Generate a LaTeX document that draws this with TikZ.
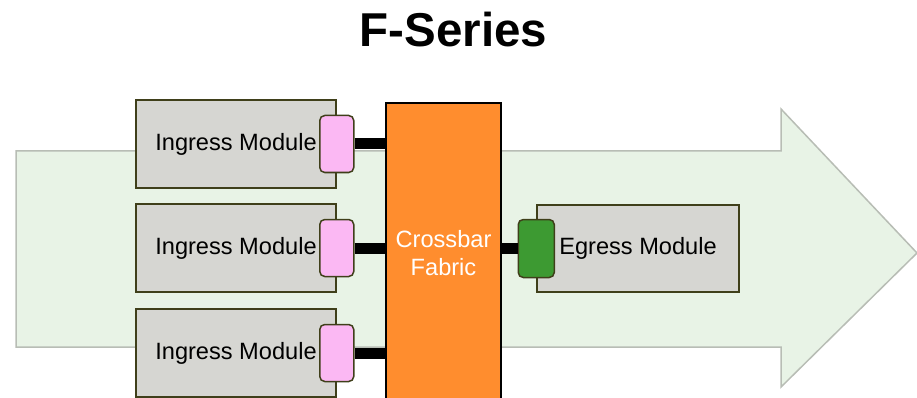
\documentclass[tikz,border=0pt]{standalone}
\usepackage{fontspec}
\setmainfont{Liberation Sans}
\definecolor{flowfill}{HTML}{E8F3E6}
\definecolor{flowline}{HTML}{B8BDB5}
\definecolor{modfill}{HTML}{D6D6D2}
\definecolor{modline}{HTML}{3F3F1A}
\definecolor{portpink}{HTML}{FBB8F3}
\definecolor{portgreen}{HTML}{3D9A32}
\definecolor{fabricorange}{HTML}{FF8D2E}
\begin{document}
\begin{tikzpicture}[x=1pt, y=-1pt,
    module/.style={draw=modline, fill=modfill, line width=1.5pt, minimum width=200pt,
      minimum height=88pt, inner sep=0pt, font=\fontsize{23.6}{28}\selectfont},
    port/.style={draw=modline, line width=1.5pt, rounded corners=5pt, minimum width=34pt,
      minimum height=57pt, inner sep=0pt},
    wire/.style={line width=11pt, black}]
        \useasboundingbox (0,0) rectangle (917,398);

        % Flow arrow in the background
        \draw[fill=flowfill, draw=flowline, line width=1.5pt]
            (16,151) -- (781,151) -- (781,109) -- (917,253) -- (781,387) -- (781,347) -- (16,347) -- cycle;

        \node[font=\fontsize{47.5}{50}\selectfont\bfseries] (title) at (453.5,29.5) {F-Series};

        % Crossbar
        \node[draw=black, fill=fabricorange, line width=2pt, minimum width=115pt, minimum height=300pt,
            text=white, align=center, font=\fontsize{23.6}{28}\selectfont] (xbar) at (443.5,253) {Crossbar\\Fabric};

        % Ingress side
        \foreach \i/\y in {1/144, 2/248, 3/353} {
            \node[module] (in\i) at (236,\y) {Ingress Module};
            \node[port, fill=portpink] (p\i) at (in\i.east) {};
            \draw[wire] (p\i.east) -- (p\i.east -| xbar.west);
        }

        % Egress side
        \node[module, minimum width=202pt, minimum height=87pt] (eg) at (638,248.5) {Egress Module};
        \node[port, fill=portgreen, minimum width=36pt, minimum height=58pt] (ep) at (eg.west) {};
        \draw[wire] (xbar.east |- ep.west) -- (ep.west);
    \end{tikzpicture}
\end{document}
